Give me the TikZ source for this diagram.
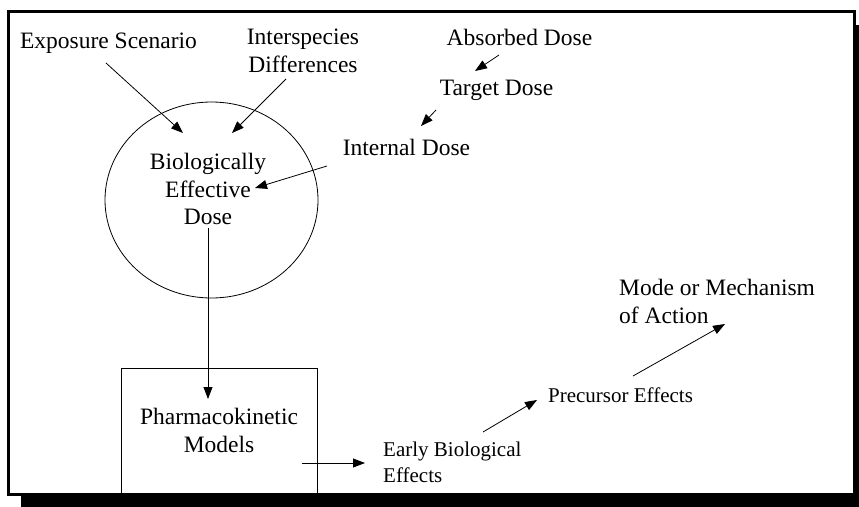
\documentclass[tikz,border=0pt]{standalone}
\usepackage{fontspec}
\setmainfont{Liberation Serif}
\usetikzlibrary{arrows.meta,positioning,shapes.geometric,calc}

\begin{document}
\begin{tikzpicture}[x=1pt, y=-1pt,
    lbl/.style={inner sep=0pt, align=center, font=\fontsize{23.5}{27.5}\selectfont},
    small/.style={inner sep=0pt, align=left, font=\fontsize{21}{26}\selectfont},
    line/.style={-{Triangle[length=12pt,width=9pt]}, line width=0.8pt}
]
\useasboundingbox (0,0) rectangle (859,506);
\clip (0,0) rectangle (859,506);
% frame and its shadow
\fill[black] (21,25) rectangle (880,530);
\draw[line width=3pt, fill=white] (8.5,11.5) rectangle (854.5,494.5);

\node[draw, ellipse, minimum width=213pt, minimum height=196pt, line width=0.8pt] (bed) at (211.5,200) {};
\node[lbl] (expo)     at (108.5,43)  {Exposure Scenario};
\node[lbl] (inter)    at (303,51)    {Interspecies\\Differences};
\node[lbl] (absorbed) at (519.5,37)  {Absorbed Dose};
\node[lbl] (target)   at (496.5,90)  {Target Dose};
\node[lbl] (internal) at (406.5,147) {Internal Dose};
\node[lbl] (bedtext)  at (208,189)   {Biologically\\Effective\\Dose};
\node[lbl, draw, minimum width=196pt, minimum height=125pt, line width=0.8pt]
      (pk) at (219,430.5) {Pharmacokinetic\\Models};
\node[small, anchor=west] (early)     at (383,462)   {Early Biological\\Effects};
\node[small]              (precursor) at (620.5,395) {Precursor Effects};
\node[lbl, align=left, anchor=west] (mode) at (619,301.5) {Mode or Mechanism\\of Action};

\draw[line] ($(expo)+(-2.5,20)$)     -- ($(bed)+(-28.5,-67)$);
\draw[line] ($(inter)+(-17,28)$)     -- ($(bed)+(20.5,-67)$);
\draw[line] ($(absorbed)+(-20.5,18)$) -- ($(target)+(-21.5,-19)$);
\draw[line] ($(target)+(-60.5,20)$)  -- ($(internal)+(14.5,-21)$);
\draw[line] ($(internal)+(-79.5,19)$) -- ($(bedtext)+(47,-1)$);
\draw[line] ($(bedtext)+(0,39)$)     -- ($(pk)+(-11,-31.5)$);
\draw[line] ($(pk)+(83,32.5)$)       -- ($(early.west)+(-18,1)$);
\draw[line] ($(early.west)+(100,-30)$) -- ($(precursor)+(-83.5,5)$);
\draw[line] ($(precursor)+(12.5,-19)$) -- ($(mode.west)+(106,22.5)$);
\end{tikzpicture}
\end{document}
